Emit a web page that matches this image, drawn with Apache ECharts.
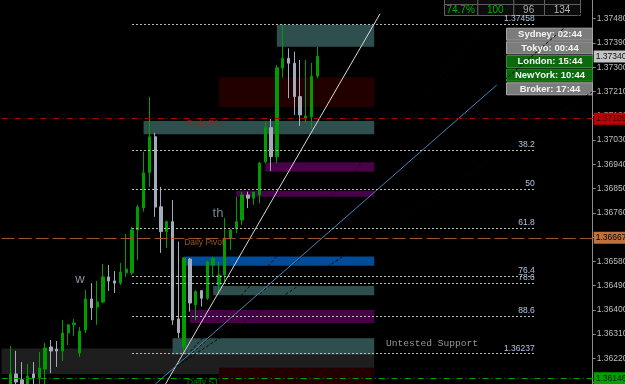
<!DOCTYPE html>
<html><head><meta charset="utf-8">
<script src="https://cdn.jsdelivr.net/npm/echarts@6/dist/echarts.min.js"></script>
<style>html,body{margin:0;padding:0;background:#000;}#c{width:625px;height:384px;}</style>
</head><body><div id="c"></div>
<script>
// ---------- DATA ----------
const totalBars = 102;
const firstBar = 1;
const opens  = [1.36102,1.36162,1.36140,1.36102,1.36162,1.36147,1.36180,1.36262,1.36254,1.36247,1.36314,1.36344,1.36240,1.36325,1.36440,1.36410,1.36429,1.36522,1.36507,1.36499,1.36537,1.36537,1.36696,1.36778,1.36909,1.37042,1.36782,1.36690,1.36727,1.36366,1.36262,1.36588,1.36418,1.36471,1.36443,1.36566,1.36492,1.36529,1.36665,1.36702,1.36733,1.36826,1.36814,1.36826,1.36949,1.37076,1.36968,1.37297,1.37333,1.37315,1.37191,1.37111,1.37116,1.37267];
const highs  = [1.36266,1.36248,1.36206,1.36199,1.36206,1.36243,1.36277,1.36288,1.36284,1.36362,1.36347,1.36366,1.36336,1.36473,1.36499,1.36507,1.36570,1.36566,1.36544,1.36574,1.36681,1.36708,1.36789,1.36987,1.37190,1.37056,1.36856,1.36730,1.36807,1.36653,1.36596,1.36592,1.36473,1.36473,1.36583,1.36597,1.36578,1.36741,1.36700,1.36820,1.36838,1.36838,1.36838,1.36949,1.37098,1.37108,1.37308,1.37458,1.37370,1.37358,1.37327,1.37327,1.37316,1.37376];
const lows   = [1.36084,1.36095,1.36095,1.36095,1.36117,1.36102,1.36095,1.36165,1.36188,1.36210,1.36269,1.36303,1.36225,1.36314,1.36362,1.36344,1.36425,1.36470,1.36462,1.36492,1.36522,1.36529,1.36585,1.36764,1.36856,1.36745,1.36611,1.36629,1.36344,1.36295,1.36237,1.36393,1.36362,1.36412,1.36436,1.36523,1.36462,1.36504,1.36622,1.36684,1.36715,1.36777,1.36789,1.36795,1.36944,1.36915,1.36944,1.37261,1.37185,1.37123,1.37082,1.37093,1.37072,1.37259];
const closes = [1.36162,1.36132,1.36110,1.36154,1.36147,1.36184,1.36258,1.36247,1.36247,1.36314,1.36344,1.36351,1.36321,1.36440,1.36407,1.36429,1.36522,1.36507,1.36499,1.36540,1.36551,1.36696,1.36781,1.36908,1.37042,1.36781,1.36690,1.36727,1.36362,1.36315,1.36592,1.36425,1.36467,1.36443,1.36578,1.36591,1.36529,1.36666,1.36696,1.36727,1.36826,1.36814,1.36836,1.36944,1.37076,1.36968,1.37298,1.37333,1.37315,1.37191,1.37123,1.37119,1.37266,1.37340];

const yMin = 1.361246, yMax = 1.375494;
const yTickLabels = [1.37480,1.37390,1.37300,1.37210,1.37120,1.37030,1.36940,1.36850,1.36760,1.36670,1.36580,1.36490,1.36400,1.36310,1.36220,1.36130];
const currentPrice = 1.37340;

const pivotNames  = ['Daily R1','Daily Pivot','Daily S1'];
const pivotPrices = [1.37109, 1.36667, 1.36146];

const fibLabels = ['1.37458','38.2','50','61.8','76.4','78.6','88.6','1.36237'];
const fibPrices = [1.37458,1.36992,1.36848,1.36703,1.36525,1.36498,1.36376,1.36237];
const fibStartBar = 22, fibEndBar = 91.5;

const zoneKinds  = ['gray','red','teal','red','teal','purple','purple','blue','teal','purple','teal'];
const zoneStart  = [-1, 37, 47, 37, 24, 45, 40, 31, 36, 32, 29];
const zoneEnd    = [63.8,63.8,63.8,63.8,63.8,63.8,63.8,63.8,63.8,63.8,63.8];
const zoneTop    = [1.36256,1.36185,1.37458,1.37263,1.37100,1.36947,1.36842,1.36598,1.36488,1.36399,1.36294];
const zoneBottom = [1.36162,1.36100,1.37376,1.37151,1.37051,1.36912,1.36819,1.36563,1.36454,1.36351,1.36234];

const whiteLineBars = [27.8, 64.8],  whiteLinePrices = [1.36125, 1.37498];
const blueLineBars  = [26.06, 84.94], blueLinePrices = [1.36125, 1.37234];
const fanOriginBar = 29.77, fanOriginPrice = 1.36191;
const fanEndBars   = [87.18, 101.38, 101.38];
const fanEndPrices = [1.37549, 1.37536, 1.37208];

const noteTexts  = ['Daily R1','Daily Pivot','Daily S1','w','th','Untested Support'];
const noteBars   = [31.5, 31.0, 31.5, 13.0, 36.84, 65.83];
const notePrices = [1.37089, 1.36648, 1.36128, 1.36511, 1.36757, 1.36275];

const sessionTexts = ['Sydney: 02:44','Tokyo: 00:44','London: 15:44','NewYork: 10:44','Broker: 17:44'];
const sessionActive = [false,false,true,true,false];
const tableValues = ['74.7%','100','96','134'];

// ---------- STYLE ----------
const NARROW = "'Liberation Sans Narrow','Liberation Sans',Arial,sans-serif";
const SANS = "'Liberation Sans',Arial,sans-serif";
const MONO = "'Liberation Mono','DejaVu Sans Mono',monospace";
const GREEN = '#009c00', GRAYC = '#a3acb9';
const zoneColor = {teal:'#2f4f4f', red:'#230000', purple:'#480048', blue:'#004c99', gray:'#1e1e1e'};
const pivotLine = [
  {color:'#b00000', type:[6,3,1,3]},
  {color:'#a0522d', type:[13,4]},
  {color:'#00a000', type:[6,3,1,3]}
];
const pivotBox = [
  {bg:'#c00000', fg:'#200000'},
  {bg:'#c0703a', fg:'#000000'},
  {bg:'#00a000', fg:'#001800'}
];
const noteStyles = [
  {color:'#b01818', fontSize:8.5, fontFamily:NARROW, align:'left'},
  {color:'#c0682e', fontSize:8.5, fontFamily:NARROW, align:'left'},
  {color:'#00a000', fontSize:8.5, fontFamily:NARROW, align:'left'},
  {color:'#a8b4c8', fontSize:13, fontFamily:SANS, align:'center'},
  {color:'#8fa3bb', fontSize:13, fontFamily:SANS, align:'center'},
  {color:'#bcbcbc', fontSize:9.6, fontFamily:MONO, align:'left'}
];

// ---------- BUILD ----------
const categories = Array.from({length: totalBars}, (_, i) => String(i));
const candleData = opens.map((o, i) => [i + firstBar, o, closes[i], lows[i], highs[i]]);

const zoneAreas = zoneKinds.map((k, i) => [
  {coord:[zoneStart[i], zoneTop[i]], itemStyle:{color:zoneColor[k], opacity:1, borderWidth:0}},
  {coord:[zoneEnd[i], zoneBottom[i]]}
]);

const fibMarks = fibPrices.map((p, i) => [
  {coord:[fibStartBar, p], name:fibLabels[i]},
  {coord:[fibEndBar, p], name:fibLabels[i]}
]);

const boxLabel = (txt, bg, fg) => ({show:true, position:'end', distance:1, formatter: txt,
  backgroundColor: bg, color: fg, padding:[2,2,1,2], fontSize:8.5, fontFamily:NARROW, lineHeight:9});

const pivotMarks = pivotPrices.map((p, i) => ({
  yAxis: p,
  lineStyle: {color: pivotLine[i].color, type: pivotLine[i].type, width: 1},
  label: boxLabel(p.toFixed(5), pivotBox[i].bg, pivotBox[i].fg)
}));
pivotMarks.push({
  yAxis: currentPrice,
  lineStyle: {color:'rgba(0,0,0,0)', width:1},
  label: boxLabel(currentPrice.toFixed(5), '#c4c4c4', '#101010')
});

const fanSeries = fanEndBars.map((b, i) => ({
  type:'line', xAxisIndex:1, yAxisIndex:0, z:2, silent:true, symbol:'none',
  data:[[fanOriginBar, fanOriginPrice],[b, fanEndPrices[i]]],
  lineStyle:{color:'#060606', width:1, type:[3,2]}
}));

const graphics = [];
// top table
const colX = [444, 477.3, 513.3, 544, 580];
const tableColors = ['#00b000','#00b000','#a8a8a8','#b4b4b4'];
for (let c = 0; c < 4; c++) {
  graphics.push({type:'rect', shape:{x:colX[c]+0.5, y:-8, width:colX[c+1]-colX[c], height:12.5},
    style:{fill:'#0c0c0c', stroke:'#5e5e5e', lineWidth:1}});
  graphics.push({type:'rect', shape:{x:colX[c]+0.5, y:4.5, width:colX[c+1]-colX[c], height:11},
    style:{fill:'#0c0c0c', stroke:'#5e5e5e', lineWidth:1}});
  graphics.push({type:'text', x:(colX[c]+colX[c+1])/2, y:10.5,
    style:{text:tableValues[c], fill:tableColors[c], font:'10px ' + NARROW, align:'center', verticalAlign:'middle'}});
}
// session boxes
sessionTexts.forEach((t, i) => {
  const y = 27.7 + i * 13.65;
  graphics.push({type:'rect', z:1, shape:{x:506.5, y:y+0.5, width:86, height:12},
    style:{fill: sessionActive[i] ? '#0b6a0b' : '#7c7c7c', stroke: sessionActive[i] ? '#2f8f2f' : '#a8a8a8', lineWidth:1}});
  graphics.push({type:'text', z:3, x:550, y:y+6.8,
    style:{text:t, fill:'#f4f4f4', font:'bold 9.5px ' + SANS, align:'center', verticalAlign:'middle'}});
});

const chart = echarts.init(document.getElementById('c'), null, {renderer:'canvas'});
chart.setOption({
  backgroundColor:'#000000',
  animation:false,
  grid:{left:1.6, right:32.3, top:0, bottom:0, containLabel:false, outerBoundsMode:'none'},
  xAxis:[
    {type:'category', data:categories, boundaryGap:true, show:false},
    {type:'value', min:-0.5, max:totalBars-0.5, show:false}
  ],
  yAxis:{
    type:'value', position:'right', min:yMin, max:yMax, scale:true,
    splitLine:{show:false},
    axisLine:{show:true, onZero:false, lineStyle:{color:'#8c8c8c', width:1}},
    axisTick:{show:true, length:3, customValues:yTickLabels, lineStyle:{color:'#8c8c8c'}},
    axisLabel:{show:true, customValues:yTickLabels, formatter:v => v.toFixed(5),
      color:'#bdbdbd', fontSize:8.5, fontFamily:NARROW, margin:4}
  },
  series:[
    {type:'line', xAxisIndex:1, yAxisIndex:0, data:[], z:1, silent:true,
     markArea:{silent:true, data:zoneAreas}},
    ...fanSeries,
    {type:'line', xAxisIndex:1, yAxisIndex:0, data:[], z:2, silent:true,
     markLine:{silent:true, symbol:['none','none'], animation:false, precision:6,
       lineStyle:{color:'#bdbdbd', type:[2,2], width:1},
       label:{show:true, position:'insideEndTop', distance:[0,1], formatter:p => p.name,
              color:'#b0c4de', fontSize:8.5, fontFamily:NARROW},
       data:fibMarks}},
    {type:'line', xAxisIndex:1, yAxisIndex:0, data:[], z:2, silent:true,
     markLine:{silent:true, symbol:['none','none'], animation:false, precision:6, data:pivotMarks}},
    {type:'candlestick', xAxisIndex:0, yAxisIndex:0, z:3, barWidth:2.8, clip:true,
     encode:{x:0, y:[1,2,3,4]},
     data:candleData,
     itemStyle:{color:GREEN, color0:GRAYC, borderColor:GREEN, borderColor0:GRAYC, borderWidth:1}},
    {type:'line', xAxisIndex:1, yAxisIndex:0, z:4, silent:true, symbol:'none',
     data:whiteLineBars.map((b,i)=>[b, whiteLinePrices[i]]),
     lineStyle:{color:'#d8d8d8', width:1}},
    {type:'line', xAxisIndex:1, yAxisIndex:0, z:4, silent:true, symbol:'none',
     data:blueLineBars.map((b,i)=>[b, blueLinePrices[i]]),
     lineStyle:{color:'#4682b4', width:1}},
    {type:'scatter', xAxisIndex:1, yAxisIndex:0, z:5, silent:true, symbolSize:0, clip:false,
     data:noteTexts.map((t,i)=>({value:[noteBars[i], notePrices[i]], name:t,
       label:{show:true, position:'inside', formatter:t, color:noteStyles[i].color,
              fontSize:noteStyles[i].fontSize, fontFamily:noteStyles[i].fontFamily,
              align:noteStyles[i].align, verticalAlign:'middle'}}))}
  ],
  graphic:graphics
});
</script></body></html>
